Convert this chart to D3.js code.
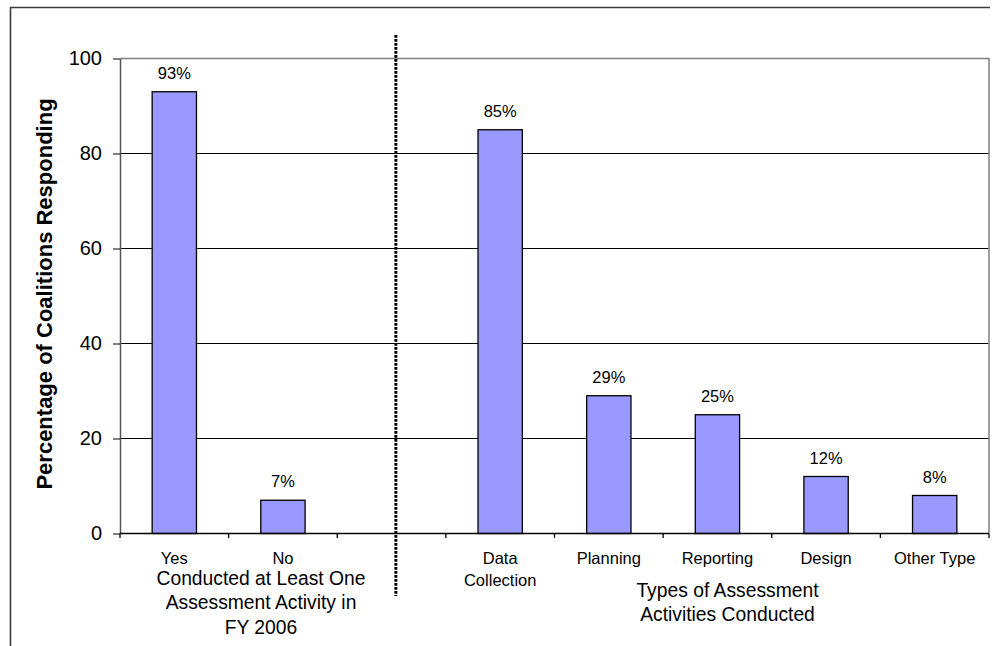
<!DOCTYPE html>
<html>
<head>
<meta charset="utf-8">
<script src="https://cdn.jsdelivr.net/npm/d3@7"></script>
<style>
  html, body { margin: 0; padding: 0; background: #fff; }
  svg { display: block; font-family: "Liberation Sans", Arial, sans-serif; }
</style>
</head>
<body>
<svg id="chart" width="994" height="646"></svg>
<script>
// Survey responses: share of coalitions (percent)
const categories = ["Yes", "No", "", "Data Collection", "Planning", "Reporting", "Design", "Other Type"];
const values = [93, 7, null, 85, 29, 25, 12, 8];
const yTicks = [0, 20, 40, 60, 80, 100];
const yTitle = "Percentage of Coalitions Responding";
const groupTitle1 = ["Conducted at Least One", "Assessment Activity in", "FY 2006"];
const groupTitle2 = ["Types of Assessment", "Activities Conducted"];

const svg = d3.select("#chart");

// plot area
const plotLeft = 120, plotRight = 989, plotTop = 58.5, plotBottom = 533.5;

const x = d3.scaleBand().domain(categories).range([plotLeft, plotRight]).padding(0);
const y = d3.scaleLinear().domain([0, 100]).range([plotBottom, plotTop]);
const bw = x.bandwidth();
const barW = bw * 0.408;

// outer frame (left and top edges)
svg.append("path")
  .attr("d", `M10.5,646 L10.5,7.5 L990,7.5`)
  .attr("fill", "none")
  .attr("stroke", "#3a3a3a")
  .attr("stroke-width", 1.6);

// horizontal gridlines
svg.append("g").selectAll("line")
  .data(yTicks.filter(t => t > 0 && t < 100))
  .join("line")
  .attr("x1", plotLeft).attr("x2", plotRight)
  .attr("y1", d => y(d)).attr("y2", d => y(d))
  .attr("stroke", "#000").attr("stroke-width", 1);

// plot area border: top and right edges
svg.append("path")
  .attr("d", `M${plotLeft},${y(100)} L${plotRight},${y(100)} L${plotRight},${y(0)}`)
  .attr("fill", "none")
  .attr("stroke", "#808080")
  .attr("stroke-width", 1.5);

// y axis
const yAxis = d3.axisLeft(y).tickValues(yTicks).tickSize(7).tickSizeOuter(0).tickPadding(11);
const gy = svg.append("g").attr("transform", `translate(${plotLeft},0)`).call(yAxis);
gy.select(".domain").attr("stroke", "#555").attr("stroke-width", 1.5);
gy.selectAll(".tick line").attr("stroke", "#000");
gy.selectAll(".tick text")
  .attr("font-size", 20)
  .attr("fill", "#000")
  .attr("font-family", "Liberation Sans, Arial, sans-serif");

// y axis title
svg.append("text")
  .attr("transform", `translate(51.5,294) rotate(-90)`)
  .attr("text-anchor", "middle")
  .attr("font-size", 22)
  .attr("font-weight", "bold")
  .attr("fill", "#000")
  .text(yTitle);

// bars
const data = categories.map((c, i) => ({ c, v: values[i] })).filter(d => d.v != null);
svg.append("g").selectAll("rect")
  .data(data)
  .join("rect")
  .attr("x", d => x(d.c) + (bw - barW) / 2)
  .attr("y", d => y(d.v))
  .attr("width", barW)
  .attr("height", d => y(0) - y(d.v))
  .attr("fill", "#9999FF")
  .attr("stroke", "#000")
  .attr("stroke-width", 1.3);

// value labels
svg.append("g").selectAll("text")
  .data(data)
  .join("text")
  .attr("x", d => x(d.c) + bw / 2)
  .attr("y", d => y(d.v) - 13)
  .attr("text-anchor", "middle")
  .attr("font-size", 16.5)
  .attr("fill", "#000")
  .text(d => `${d.v}%`);

// x axis line and boundary ticks
svg.append("line")
  .attr("x1", plotLeft).attr("x2", plotRight)
  .attr("y1", y(0)).attr("y2", y(0))
  .attr("stroke", "#000").attr("stroke-width", 1.3);
const bounds = categories.map(c => x(c)).concat([plotRight]);
svg.append("g").selectAll("line")
  .data(bounds)
  .join("line")
  .attr("x1", d => d).attr("x2", d => d)
  .attr("y1", y(0)).attr("y2", y(0) + 4.5)
  .attr("stroke", "#000").attr("stroke-width", 1.3);

// category labels, wrapped to the band width
const catG = svg.append("g");
categories.forEach(c => {
  if (!c) return;
  const cx = x(c) + bw / 2;
  const t = catG.append("text")
    .attr("x", cx)
    .attr("y", y(0) + 30)
    .attr("text-anchor", "middle")
    .attr("font-size", 16.5)
    .attr("fill", "#000");
  const words = c.split(" ");
  let line = [];
  let tspan = t.append("tspan").attr("x", cx).attr("dy", 0);
  words.forEach(w => {
    line.push(w);
    tspan.text(line.join(" "));
    if (tspan.node().getComputedTextLength() > bw - 6 && line.length > 1) {
      line.pop();
      tspan.text(line.join(" "));
      line = [w];
      tspan = t.append("tspan").attr("x", cx).attr("dy", 22.7).text(w);
    }
  });
});

// group titles below the category labels
function groupTitle(lines, cx, y0) {
  const t = svg.append("text")
    .attr("text-anchor", "middle")
    .attr("font-size", 19.3)
    .attr("fill", "#000");
  lines.forEach((s, i) => {
    t.append("tspan").attr("x", cx).attr("y", y0 + i * 24.4).text(s);
  });
}
groupTitle(groupTitle1, 261, 585);
groupTitle(groupTitle2, 727.5, 596.7);

// dotted separator between the two groups
const sepX = x(categories[2]) + bw / 2 + 4.3;
svg.append("line")
  .attr("x1", sepX).attr("x2", sepX)
  .attr("y1", 35).attr("y2", 596)
  .attr("stroke", "#000")
  .attr("stroke-width", 3)
  .attr("stroke-dasharray", "2.7,1.3");
</script>
</body>
</html>
